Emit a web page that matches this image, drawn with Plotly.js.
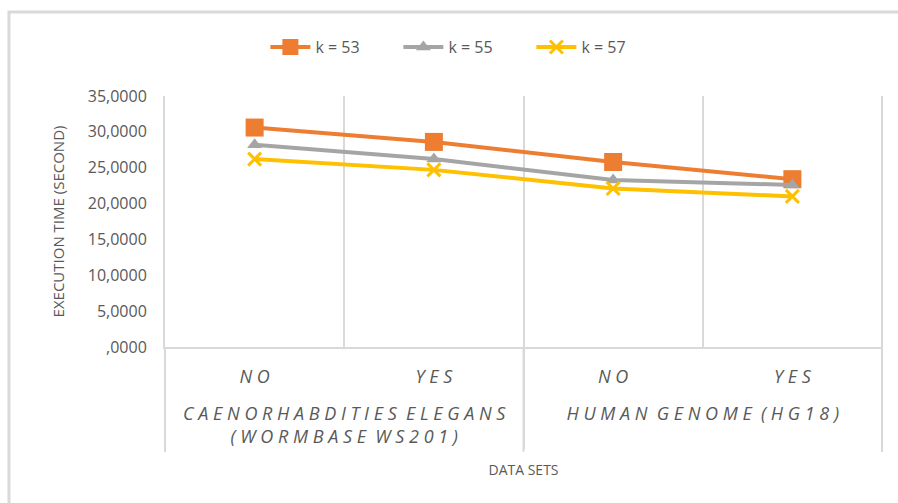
<!DOCTYPE html>
<html>
<head>
<meta charset="utf-8">
<script src="https://cdn.plot.ly/plotly-3.0.1.min.js"></script>
<style>body{margin:0;padding:0;background:#fff;}#chart{width:898px;height:503px;}</style>
</head>
<body>
<div id="chart"></div>
<script>
const outerCats = ["C A E N O R H A B D I T I E S  E L E G A N S<br>( W O R M B A S E  W S 2 0 1 )", "C A E N O R H A B D I T I E S  E L E G A N S<br>( W O R M B A S E  W S 2 0 1 )", "H U M A N  G E N O M E  ( H G 1 8 )", "H U M A N  G E N O M E  ( H G 1 8 )"];
const innerCats = ["N O<br> ", "Y E S<br> ", "N O<br> ", "Y E S<br> "];
const k53 = [30.6, 28.6, 25.8, 23.4];
const k55 = [28.2, 26.2, 23.3, 22.6];
const k57 = [26.2, 24.7, 22.1, 21.0];
const yTickVals = [0, 5, 10, 15, 20, 25, 30, 35];
const yTickText = [",0000", "5,0000", "10,0000", "15,0000", "20,0000", "25,0000", "30,0000", "35,0000"];

const font = "Open Sans, Liberation Sans, sans-serif";
const traces = [
  {name: "k = 53", x: [outerCats, innerCats], y: k53, type: "scatter", mode: "lines+markers",
   line: {color: "#ED7D31", width: 4}, marker: {symbol: "square", size: 18, color: "#ED7D31"}},
  {name: "k = 55", x: [outerCats, innerCats], y: k55, type: "scatter", mode: "lines+markers",
   line: {color: "#A5A5A5", width: 4}, marker: {symbol: "triangle-up", size: 13, color: "#A5A5A5"}},
  {name: "k = 57", x: [outerCats, innerCats], y: k57, type: "scatter", mode: "lines+markers",
   line: {color: "#FFC000", width: 4}, marker: {symbol: "x-thin", size: 13, color: "#FFC000", line: {color: "#FFC000", width: 3}}}
];
const layout = {
  width: 898, height: 503,
  margin: {l: 165, r: 16, t: 96, b: 156},
  paper_bgcolor: "#fff", plot_bgcolor: "#fff",
  font: {family: font, color: "#595959", size: 13},
  showlegend: true,
  legend: {orientation: "h", x: 0.14, xanchor: "left", y: 1.195, yanchor: "middle",
           entrywidth: 78, entrywidthmode: "pixels", itemwidth: 40,
           font: {size: 16, color: "#595959"}},
  xaxis: {type: "multicategory", range: [-0.5, 3.5], tickson: "boundaries", showgrid: true, gridcolor: "#d9d9d9", gridwidth: 2,
          showline: true, linecolor: "#d9d9d9", linewidth: 2, ticks: "", showdividers: true, dividercolor: "#d9d9d9", dividerwidth: 2,
          ticklabelstandoff: 12,
          tickfont: {size: 18, color: "#595959", family: font, style: "italic"},
          title: {text: "DATA SETS", font: {size: 14, color: "#595959"}, standoff: 18}},
  yaxis: {range: [0, 35], tickvals: yTickVals, ticktext: yTickText, showgrid: false, zeroline: false,
          showline: true, linecolor: "#d9d9d9", linewidth: 2, ticks: "", ticklabelstandoff: 13,
          tickfont: {size: 16, color: "#595959"},
          title: {text: "EXECUTION TIME (SECOND)", font: {size: 15, color: "#595959"}, standoff: 20}},
  shapes: [
    {type: "rect", xref: "paper", yref: "paper", x0: -0.2176, x1: 1.06, y0: -0.8, y1: 1.3347,
     line: {color: "#d9d9d9", width: 3}, layer: "below"},
    {type: "line", xref: "paper", yref: "paper", x0: 0, x1: 0, y0: 0, y1: -0.418, line: {color: "#d9d9d9", width: 2}},
    {type: "line", xref: "paper", yref: "paper", x0: 1, x1: 1, y0: 1, y1: -0.418, line: {color: "#d9d9d9", width: 2}},
    {type: "line", xref: "paper", yref: "paper", x0: 0.5, x1: 0.5, y0: 0, y1: -0.418, line: {color: "#d9d9d9", width: 2}}
  ]
};
Plotly.newPlot("chart", traces, layout, {displayModeBar: false, staticPlot: true});
</script>
</body>
</html>
